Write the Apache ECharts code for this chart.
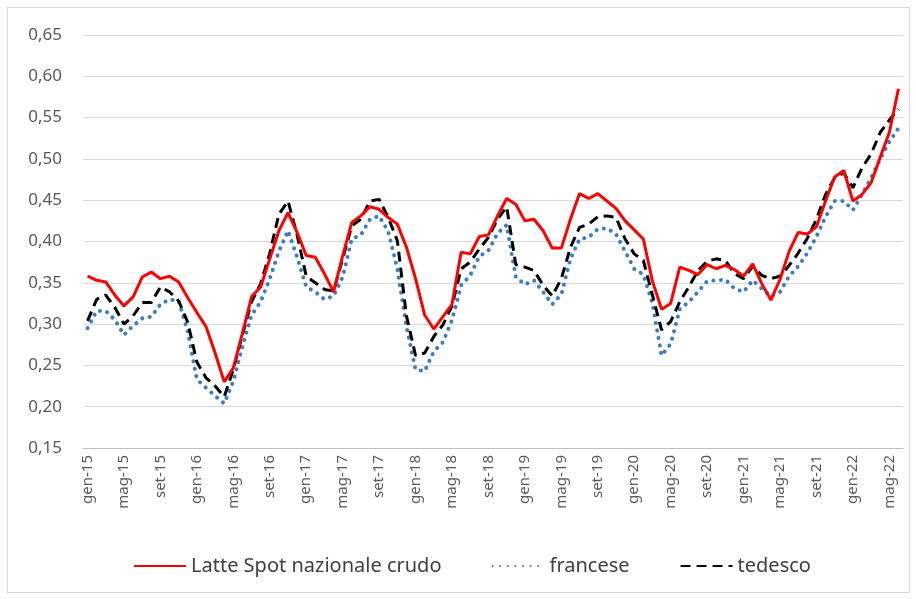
<!DOCTYPE html>
<html>
<head>
<meta charset="utf-8">
<title>Latte spot</title>
<script src="https://cdn.jsdelivr.net/npm/echarts@6/dist/echarts.min.js"></script>
<style>
    html, body { margin: 0; padding: 0; background: #fff; }
    #frame { position: absolute; left: 7px; top: 7px; width: 901px; height: 584px; border: 1px solid #d9d9d9; }
    #chart { position: absolute; left: 0; top: 0; width: 916px; height: 599px; }
</style>
</head>
<body>
<div id="frame"></div>
<div id="chart"></div>
<script>
// mesi gen-15 .. giu-22
var mesi = ['gen', 'feb', 'mar', 'apr', 'mag', 'giu', 'lug', 'ago', 'set', 'ott', 'nov', 'dic'];
var anni = ['15', '16', '17', '18', '19', '20', '21', '22'];
var categories = [];
for (var a = 0; a < anni.length; a++) {
    for (var m = 0; m < mesi.length; m++) {
        if (anni[a] == '22' && m > 5) break;
        categories.push(mesi[m] + '-' + anni[a]);
    }
}

var latteSpot = [
    0.358, 0.353, 0.351, 0.335, 0.322, 0.333, 0.357, 0.363, 0.355, 0.358, 0.351, 0.332,
    0.314, 0.297, 0.265, 0.230, 0.247, 0.289, 0.333, 0.345, 0.379, 0.413, 0.435, 0.411,
    0.383, 0.381, 0.361, 0.339, 0.383, 0.423, 0.431, 0.442, 0.439, 0.429, 0.421, 0.393,
    0.355, 0.311, 0.294, 0.309, 0.324, 0.387, 0.385, 0.406, 0.408, 0.431, 0.452, 0.445,
    0.425, 0.427, 0.413, 0.392, 0.392, 0.427, 0.458, 0.452, 0.458, 0.449, 0.440, 0.425,
    0.414, 0.403, 0.352, 0.318, 0.325, 0.369, 0.365, 0.360, 0.372, 0.367, 0.371, 0.366,
    0.358, 0.373, 0.349, 0.329, 0.354, 0.388, 0.411, 0.409, 0.418, 0.449, 0.478, 0.486,
    0.449, 0.457, 0.471, 0.502, 0.532, 0.585
];
var francese = [
    0.295, 0.316, 0.316, 0.305, 0.287, 0.298, 0.307, 0.309, 0.324, 0.330, 0.328, 0.291,
    0.233, 0.223, 0.213, 0.204, 0.231, 0.273, 0.311, 0.327, 0.355, 0.388, 0.413, 0.381,
    0.345, 0.339, 0.330, 0.334, 0.357, 0.403, 0.408, 0.427, 0.431, 0.412, 0.367, 0.297,
    0.245, 0.243, 0.267, 0.278, 0.305, 0.347, 0.359, 0.382, 0.389, 0.410, 0.420, 0.357,
    0.348, 0.353, 0.339, 0.324, 0.336, 0.379, 0.403, 0.405, 0.415, 0.416, 0.409, 0.388,
    0.367, 0.360, 0.325, 0.262, 0.276, 0.318, 0.327, 0.339, 0.352, 0.353, 0.354, 0.343,
    0.339, 0.353, 0.343, 0.334, 0.339, 0.358, 0.370, 0.386, 0.406, 0.430, 0.449, 0.449,
    0.438, 0.457, 0.477, 0.500, 0.521, 0.537
];
var tedesco = [
    0.304, 0.330, 0.335, 0.320, 0.300, 0.310, 0.326, 0.326, 0.345, 0.339, 0.328, 0.302,
    0.254, 0.235, 0.225, 0.212, 0.245, 0.287, 0.327, 0.349, 0.386, 0.433, 0.449, 0.408,
    0.358, 0.350, 0.342, 0.340, 0.379, 0.419, 0.427, 0.449, 0.451, 0.429, 0.401, 0.310,
    0.262, 0.265, 0.285, 0.299, 0.322, 0.367, 0.375, 0.391, 0.405, 0.427, 0.442, 0.372,
    0.369, 0.365, 0.347, 0.334, 0.355, 0.393, 0.417, 0.421, 0.430, 0.431, 0.429, 0.403,
    0.385, 0.377, 0.335, 0.293, 0.303, 0.327, 0.345, 0.365, 0.376, 0.379, 0.377, 0.361,
    0.355, 0.370, 0.359, 0.355, 0.358, 0.371, 0.386, 0.404, 0.427, 0.457, 0.477, 0.483,
    0.465, 0.489, 0.506, 0.532, 0.547, 0.560
];

var myChart = echarts.init(document.getElementById('chart'), null, { renderer: 'canvas' });
var font = 'Noto Sans';

var option = {
    animation: false,
    grid: { left: 83, right: 13, top: 35, bottom: 151 },
    legend: {
        left: 133,
        top: 556,
        padding: 0,
        itemWidth: 52,
        itemHeight: 14,
        itemGap: 50,
        textStyle: { color: '#404040', fontSize: 20, fontFamily: font },
        itemStyle: { opacity: 0 },
        data: ['Latte Spot nazionale crudo', 'francese', 'tedesco']
    },
    xAxis: {
        type: 'category',
        data: categories,
        boundaryGap: true,
        axisLine: { lineStyle: { color: '#bfbfbf' } },
        axisTick: { interval: 3, length: 5, lineStyle: { color: '#bfbfbf' } },
        axisLabel: {
            interval: 3,
            rotate: 90,
            margin: 7,
            color: '#595959',
            fontSize: 15,
            fontFamily: font
        },
        splitLine: { show: false }
    },
    yAxis: {
        type: 'value',
        min: 0.15,
        max: 0.65,
        interval: 0.05,
        axisLine: { show: false },
        axisTick: { show: false },
        axisLabel: {
            margin: 21,
            color: '#595959',
            fontSize: 17,
            fontFamily: font,
            formatter: function (v) {
                return v.toFixed(2).replace('.', ',');
            }
        },
        splitLine: { lineStyle: { color: '#d9d9d9', width: 1 } }
    },
    series: [
        {
            name: 'Latte Spot nazionale crudo',
            type: 'line',
            data: latteSpot,
            showSymbol: false,
            symbol: 'none',
            z: 3,
            itemStyle: { color: '#ff0000' },
            lineStyle: { color: '#ff0000', width: 3 }
        },
        {
            name: 'francese',
            type: 'line',
            data: francese,
            showSymbol: false,
            symbol: 'none',
            z: 1,
            itemStyle: { color: '#3b7dc4' },
            lineStyle: { color: '#3b7dc4', width: 4, type: [0.1, 7.5], cap: 'round' }
        },
        {
            name: 'tedesco',
            type: 'line',
            data: tedesco,
            showSymbol: false,
            symbol: 'none',
            z: 2,
            itemStyle: { color: '#000000' },
            lineStyle: { color: '#000000', width: 3, type: [10, 6] }
        }
    ]
};
myChart.setOption(option);
</script>
</body>
</html>
